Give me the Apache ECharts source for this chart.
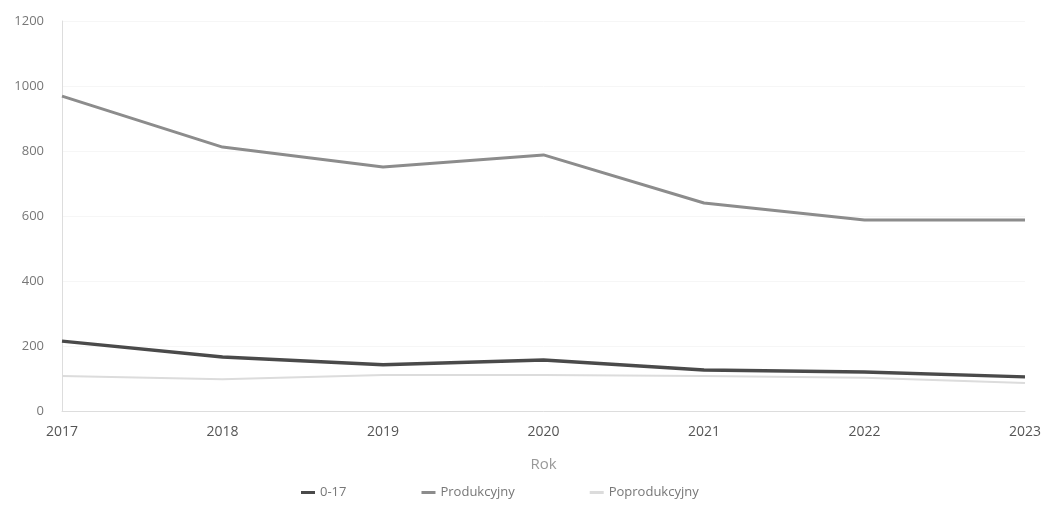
<!DOCTYPE html>
<html>
<head>
<meta charset="utf-8">
<script src="https://cdn.jsdelivr.net/npm/echarts@6/dist/echarts.min.js"></script>
<style>
  html, body { margin: 0; padding: 0; background: #fff; }
  #chart { width: 1046px; height: 512px; }
</style>
</head>
<body>
<div id="chart"></div>
<script>
var years = ['2017', '2018', '2019', '2020', '2021', '2022', '2023'];
var age017 = [215, 166, 142, 157, 126, 120, 105];
var produkcyjny = [969, 812, 751, 788, 640, 588, 588];
var poprodukcyjny = [108, 98, 111, 111, 108, 102, 86];

var myChart = echarts.init(document.getElementById('chart'));
var option = {
  backgroundColor: '#fff',
  textStyle: { fontFamily: 'Open Sans' },
  grid: { left: 62, right: 21, top: 21, bottom: 101 },
  legend: {
    bottom: 8,
    left: 296,
    itemWidth: 14,
    itemHeight: 3,
    itemGap: 75,
    icon: 'rect',
    textStyle: { color: '#777', fontSize: 13 },
    data: ['0-17', 'Produkcyjny', 'Poprodukcyjny']
  },
  xAxis: {
    type: 'category',
    data: years,
    boundaryGap: false,
    name: 'Rok',
    nameLocation: 'middle',
    nameGap: 46,
    nameTextStyle: { color: '#999', fontSize: 15 },
    axisLine: { lineStyle: { color: '#ddd' } },
    axisTick: { show: false },
    axisLabel: { color: '#555', fontSize: 14, margin: 14 }
  },
  yAxis: {
    type: 'value',
    min: 0,
    max: 1200,
    interval: 200,
    axisLine: { show: true, lineStyle: { color: '#ddd' } },
    axisTick: { show: false },
    splitLine: { lineStyle: { color: '#f6f6f6' } },
    axisLabel: {
      color: '#777', fontSize: 13, margin: 18,
      formatter: function (v) { return String(v); }
    }
  },
  series: [
    {
      name: '0-17',
      type: 'line',
      data: age017,
      symbol: 'none',
      color: '#4a4a4a',
      lineStyle: { width: 3.5, color: '#4a4a4a' }
    },
    {
      name: 'Produkcyjny',
      type: 'line',
      data: produkcyjny,
      symbol: 'none',
      color: '#8c8c8c',
      lineStyle: { width: 3, color: '#8c8c8c' }
    },
    {
      name: 'Poprodukcyjny',
      type: 'line',
      data: poprodukcyjny,
      symbol: 'none',
      color: '#dcdcdc',
      lineStyle: { width: 2, color: '#dcdcdc' }
    }
  ]
};
myChart.setOption(option);
</script>
</body>
</html>
